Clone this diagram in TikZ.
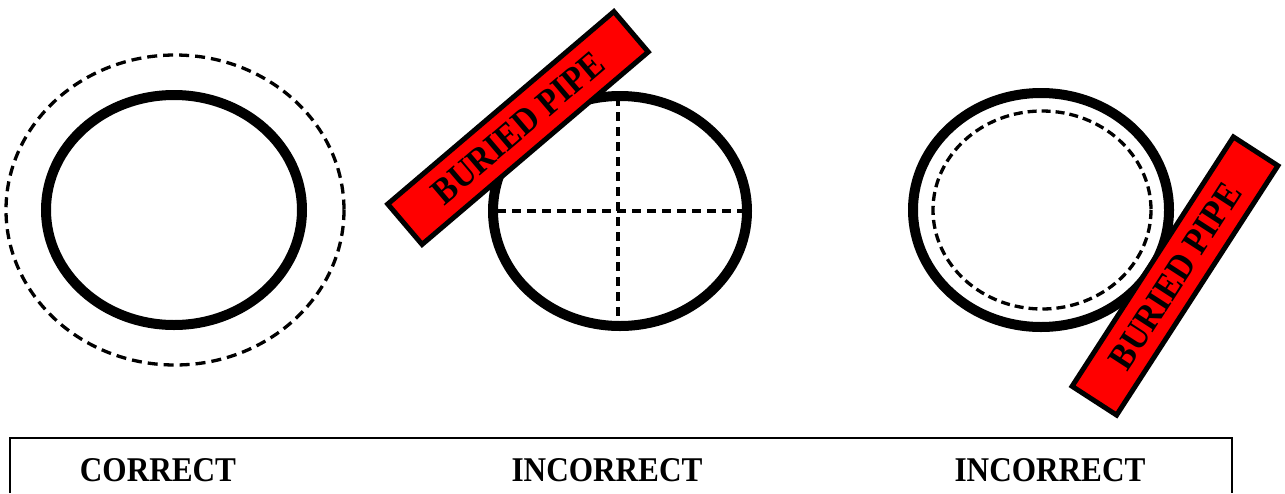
\documentclass[tikz,border=0pt]{standalone}
\usepackage{fontspec}
\setmainfont{Liberation Serif}
\usetikzlibrary{shapes.geometric}
\definecolor{pipered}{RGB}{255,0,0}
\tikzset{
  thickring/.style={draw=black, line width=10pt},
  dashring/.style={draw=black, line width=3.3pt, dash pattern=on 10pt off 6pt},
  pipebox/.style={draw=black, fill=pipered, line width=5pt, minimum width=297pt, minimum height=53pt, inner sep=0pt, font=\bfseries\fontsize{37}{40}\selectfont},
  lbl/.style={anchor=base, inner sep=0pt, font=\bfseries\fontsize{34.7}{40}\selectfont},
  frame/.style={draw=black, line width=1.6pt}
}
\newcommand{\cond}[1]{\scalebox{0.9}[1]{#1}}
\begin{document}
\begin{tikzpicture}[x=1pt,y=-1pt]
\useasboundingbox (0,0) rectangle (1285,493);
% left: correct
\draw[dashring] (175,210) ellipse [x radius=169, y radius=155];
\draw[thickring] (174,210) ellipse [x radius=128, y radius=115];
% middle: incorrect (ovalised)
\draw[thickring] (620,211) ellipse [x radius=127, y radius=115];
\coordinate (hl) at (497,211);
\coordinate (hr) at (745,211);
\coordinate (vt) at (618,97);
\coordinate (vb) at (618,323);
\draw[dashring, dash pattern=on 9pt off 6pt] (hl) -- (hr);
\draw[dashring, dash pattern=on 9pt off 6pt] (vt) -- (vb);
\node[pipebox, rotate=40.4] (p1) at (518,128) {\cond{BURIED PIPE}};
% right: incorrect (wall crushed)
\draw[thickring] (1041,210) ellipse [x radius=128, y radius=117];
\draw[dashring, dash pattern=on 9pt off 5pt] (1042,210) ellipse [x radius=109, y radius=99];
\node[pipebox, rotate=57.1] (p2) at (1175,276) {\cond{BURIED PIPE}};
% bottom frame
\coordinate (fl) at (10,493);
\coordinate (fr) at (1232,493);
\draw[frame] (fl) -- (10,438) -- (1232,438) -- (fr);
\node[lbl] (c1) at (158,481) {\cond{CORRECT}};
\node[lbl] (c2) at (607,481) {\cond{INCORRECT}};
\node[lbl] (c3) at (1050,481) {\cond{INCORRECT}};
\end{tikzpicture}
\end{document}
